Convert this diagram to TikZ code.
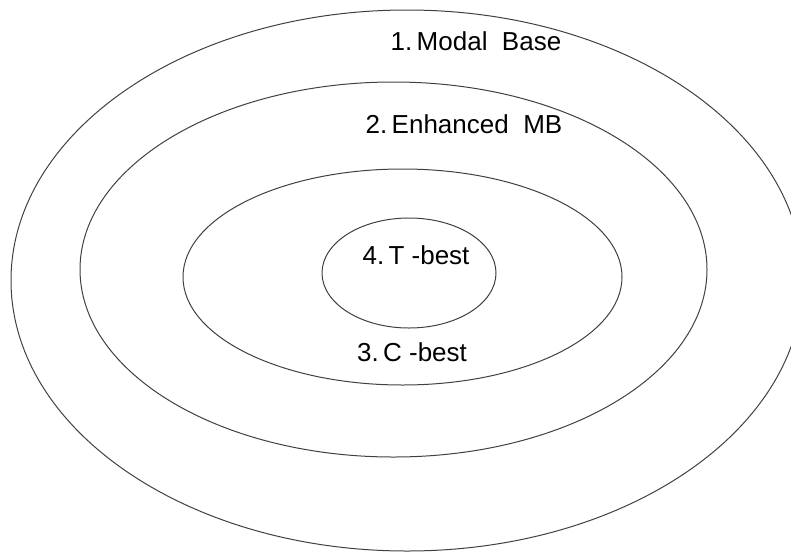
\documentclass[tikz,border=0pt]{standalone}
\usepackage{fontspec}
\setmainfont{Liberation Sans}

\begin{document}
\begin{tikzpicture}[x=0.5pt, y=-0.5pt,
  Ring/.style={draw=black!75, line width=0.5pt},
  Lbl/.style={anchor=base, inner sep=0pt, font=\fontsize{13}{15}\selectfont}]
  \useasboundingbox (0,0) rectangle (791,552);
  \clip (0,0) rectangle (791,552);
  \draw[Ring] (407,280.5) ellipse [x radius=396, y radius=270.5];
  \draw[Ring] (393.5,269.5) ellipse [x radius=313.5, y radius=187.5];
  \draw[Ring] (402.5,277) ellipse [x radius=219.5, y radius=108];
  \draw[Ring] (409,273) ellipse [x radius=87, y radius=55];
  \node[Lbl] (ModalBase) at (476,50) {1.\,Modal\ \ Base};
  \node[Lbl] (EnhancedMB) at (464,133) {2.\,Enhanced\ \ MB};
  \node[Lbl] (Tbest) at (416,264) {4.\,T -best};
  \node[Lbl] (Cbest) at (412,361) {3.\,C -best};
\end{tikzpicture}
\end{document}
